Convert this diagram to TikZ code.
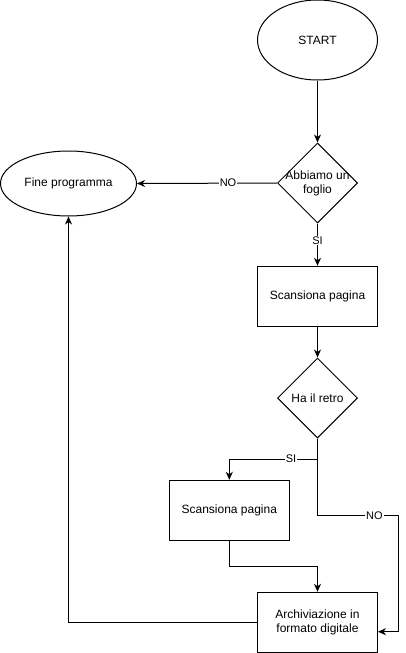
\documentclass[tikz,border=0pt]{standalone}
\usepackage{fontspec}
\setmainfont{Liberation Sans}
\usetikzlibrary{shapes.geometric,arrows.meta}
\begin{document}
\begin{tikzpicture}[x=1pt,y=-1pt,
  every node/.style={font=\fontsize{12}{14}\selectfont},
  oval/.style={draw,line width=1pt,ellipse,inner sep=0pt},
  box/.style={draw,line width=1pt,rectangle,minimum width=120pt,minimum height=60pt,inner sep=0pt,align=center},
  choice/.style={draw,line width=1pt,diamond,aspect=1,minimum width=80pt,minimum height=80pt,inner sep=0pt},
  conn/.style={line width=1pt,-{Stealth[length=8pt,width=7pt,inset=2.5pt]}},
  plain/.style={line width=1pt},
  lbl/.style={fill=white,inner sep=1pt,font=\fontsize{11}{13}\selectfont}
]
\useasboundingbox (0,0) rectangle (406,653);
\node[oval,minimum width=120pt,minimum height=80pt] (start) at (317.5,40) {START};
\node[choice,label={[align=center,font=\fontsize{12}{14}\selectfont]center:Abbiamo un\\foglio}] (dec1) at (317.5,183) {};
\node[oval,minimum width=136pt,minimum height=65pt] (fine) at (68.5,183.5) {Fine programma};
\node[box] (scan1) at (317.5,296.3) {Scansiona pagina};
\node[choice] (dec2) at (317.5,398) {Ha il retro};
\node[box] (scan2) at (229.3,510.3) {Scansiona pagina};
\node[box] (arch) at (317.5,622.3) {Archiviazione in\\formato digitale};

\coordinate (split) at (317.5,459);
\coordinate (nocorner) at (317.5,515.7);
\coordinate (noright) at (398.7,515.7);
\coordinate (join) at (229.3,566);
\coordinate (archin) at ([yshift=-9.4pt]arch.east);

\draw[conn] (start.south) -- (dec1.north);
\draw[conn] (dec1.west) -- node[lbl,pos=0.35]{NO} (fine.east);
\draw[conn] (dec1.south) -- node[lbl,pos=0.4]{SI} (scan1.north);
\draw[conn] (scan1.south) -- (dec2.north);
\draw[conn] (dec2.south) -- (split) -| node[lbl,pos=0.15]{SI} (scan2.north);
\draw[plain] (split) -- (nocorner);
\draw[conn] (nocorner) -- node[lbl,pos=0.7]{NO} (noright) |- (archin);
\draw[conn] (scan2.south) -- (join) -| (arch.north);
\draw[conn] (arch.west) -| (fine.south);
\end{tikzpicture}
\end{document}
